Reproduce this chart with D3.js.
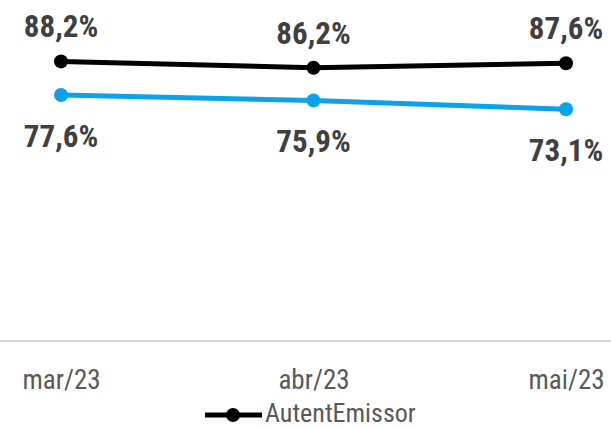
<!DOCTYPE html>
<html>
<head>
<meta charset="utf-8">
<script src="https://cdn.jsdelivr.net/npm/d3@7"></script>
<style>
  html, body { margin: 0; padding: 0; background: #fff; }
  svg { display: block; }
  text { font-family: "Roboto Condensed", "Liberation Sans Narrow", "Arial Narrow", sans-serif; }
</style>
</head>
<body>
<svg id="chart" width="611" height="429"></svg>
<script>
const categories = ["mar/23", "abr/23", "mai/23"];
const autentEmissor = [88.2, 86.2, 87.6];
const serie2 = [77.6, 75.9, 73.1];
const seriesNames = ["AutentEmissor", ""];

const W = 611, H = 429;
const svg = d3.select("#chart");
const FONT = '"Roboto Condensed", "Liberation Sans Narrow", "Arial Narrow", sans-serif';

const x = d3.scalePoint().domain(categories).range([61, 566]);
const y = d3.scaleLinear().domain([0, 100]).range([341, 24]);

const fmt = v => d3.format(".1f")(v).replace(".", ",") + "%";

svg.append("line")
  .attr("x1", 0).attr("x2", W)
  .attr("y1", y(0)).attr("y2", y(0))
  .attr("stroke", "#d9d9d9").attr("stroke-width", 2);

const axis = svg.append("g")
  .attr("transform", `translate(0,${y(0)})`)
  .call(d3.axisBottom(x).tickSize(0).tickPadding(29));
axis.select(".domain").remove();
axis.selectAll("text")
  .attr("fill", "#595959")
  .style("font-size", "27px")
  .style("font-family", FONT);

const series = [
  { name: seriesNames[0], values: autentEmissor, color: "#000000", labelPos: "above" },
  { name: seriesNames[1], values: serie2, color: "#0AA2E8", labelPos: "below" }
];

const line = d3.line().x((d, i) => x(categories[i])).y(d => y(d));

series.forEach(s => {
  const g = svg.append("g");
  g.append("path")
    .datum(s.values)
    .attr("d", line)
    .attr("fill", "none")
    .attr("stroke", s.color)
    .attr("stroke-width", 5)
    .attr("stroke-linejoin", "round");
  g.selectAll("circle")
    .data(s.values)
    .join("circle")
    .attr("cx", (d, i) => x(categories[i]))
    .attr("cy", d => y(d))
    .attr("r", 7)
    .attr("fill", s.color);
  g.selectAll("text.lbl")
    .data(s.values)
    .join("text")
    .attr("class", "lbl")
    .attr("x", (d, i) => x(categories[i]))
    .attr("y", d => s.labelPos === "above" ? y(d) - 24 : y(d) + 52)
    .attr("text-anchor", "middle")
    .attr("fill", "#404040")
    .style("font-size", "31px")
    .style("font-weight", "bold")
    .style("font-family", FONT)
    .text(d => fmt(d));
});

const lg = svg.append("g").attr("transform", "translate(205,415)");
lg.append("line")
  .attr("x1", 0).attr("x2", 57).attr("y1", 0).attr("y2", 0)
  .attr("stroke", "#000").attr("stroke-width", 5);
lg.append("circle").attr("cx", 28).attr("cy", 0).attr("r", 7).attr("fill", "#000");
lg.append("text")
  .attr("x", 60).attr("y", 7)
  .attr("fill", "#595959")
  .style("font-size", "26px")
  .style("font-family", FONT)
  .text(seriesNames[0]);
</script>
</body>
</html>
